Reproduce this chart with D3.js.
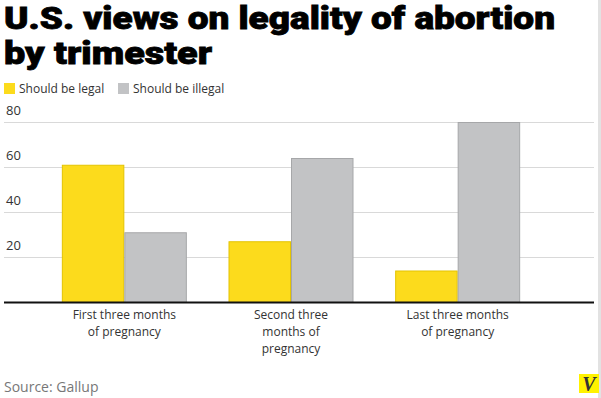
<!DOCTYPE html>
<html>
<head>
<meta charset="utf-8">
<script src="https://cdn.jsdelivr.net/npm/d3@7"></script>
<style>
  body { margin: 0; background: #fff; }
  svg { display: block; }
</style>
</head>
<body>
<div id="chart-holder"></div>
<script>
// data
var categories = ["first", "second", "last"];
var categoryLabels = [
  ["First three months", "of pregnancy"],
  ["Second three", "months of", "pregnancy"],
  ["Last three months", "of pregnancy"]
];
var seriesNames = ["Should be legal", "Should be illegal"];
var legalValues = [61, 27, 14];
var illegalValues = [31, 64, 80];
var yTicks = [20, 40, 60, 80];

var fills = ["#fcdb1c", "#c2c3c5"];
var strokes = ["#e3c400", "#a6a7a9"];

var width = 601, height = 398;

var svg = d3.select("#chart-holder").append("svg")
  .attr("width", width)
  .attr("height", height);

// right edge strip
svg.append("rect")
  .attr("x", 598).attr("y", 0)
  .attr("width", 3).attr("height", height)
  .attr("fill", "#e2e2e2");

// title
var titleLines = ["U.S. views on legality of abortion", "by trimester"];
var titleWidths = [551, 208];
svg.selectAll("text.title")
  .data(titleLines)
  .enter()
  .append("text")
  .attr("class", "title")
  .attr("x", 4)
  .attr("y", function (d, i) { return 29 + i * 35; })
  .attr("textLength", function (d, i) { return titleWidths[i]; })
  .attr("lengthAdjust", "spacingAndGlyphs")
  .style("font-family", "Roboto, sans-serif")
  .style("font-weight", 900)
  .style("font-size", "31px")
  .style("fill", "#000")
  .style("stroke", "#000")
  .style("stroke-width", 0.8)
  .text(function (d) { return d; });

// legend
var legendX = [4, 118];
var legend = svg.selectAll("g.legend")
  .data(seriesNames)
  .enter()
  .append("g")
  .attr("class", "legend")
  .attr("transform", function (d, i) { return "translate(" + legendX[i] + ",83)"; });
legend.append("rect")
  .attr("width", 11).attr("height", 11)
  .attr("fill", function (d, i) { return fills[i]; });
legend.append("text")
  .attr("x", 15).attr("y", 10)
  .style("font-family", "'Open Sans', sans-serif")
  .style("font-size", "12px")
  .style("fill", "#333")
  .text(function (d) { return d; });

// scales
var x0 = d3.scaleBand()
  .domain(categories)
  .range([41, 541])
  .paddingInner(0.25)
  .paddingOuter(0.125);
var x1 = d3.scaleBand()
  .domain(seriesNames)
  .range([0, x0.bandwidth()]);
var y = d3.scaleLinear()
  .domain([0, 80])
  .range([302, 122]);

// gridlines + y labels
var yAxis = svg.append("g")
  .attr("transform", "translate(594,0)")
  .call(d3.axisLeft(y).tickValues(yTicks).tickSize(590).tickFormat(d3.format("d")));
yAxis.select(".domain").remove();
yAxis.selectAll(".tick line").attr("stroke", "#d9d9d9").attr("stroke-width", 1);
yAxis.selectAll(".tick text")
  .attr("x", -588)
  .attr("dy", "-0.55em")
  .attr("text-anchor", "start")
  .style("font-family", "'Open Sans', sans-serif")
  .style("font-size", "13px")
  .style("fill", "#333");

// bars
var rows = categories.map(function (c, i) {
  return { cat: c, values: [legalValues[i], illegalValues[i]] };
});
var groups = svg.selectAll("g.group")
  .data(rows)
  .enter()
  .append("g")
  .attr("class", "group")
  .attr("transform", function (d) { return "translate(" + x0(d.cat) + ",0)"; });
groups.selectAll("rect")
  .data(function (d) { return d.values.map(function (v, j) { return { key: seriesNames[j], value: v, j: j }; }); })
  .enter()
  .append("rect")
  .attr("x", function (d) { return x1(d.key) + 0.5; })
  .attr("y", function (d) { return y(d.value) + 0.5; })
  .attr("width", x1.bandwidth() - 1)
  .attr("height", function (d) { return y(0) - y(d.value); })
  .attr("fill", function (d) { return fills[d.j]; })
  .attr("stroke", function (d) { return strokes[d.j]; })
  .attr("stroke-width", 1);

// baseline
svg.append("line")
  .attr("x1", 4).attr("x2", 594)
  .attr("y1", y(0) + 0.5).attr("y2", y(0) + 0.5)
  .attr("stroke", "#111")
  .attr("stroke-width", 2);

// category labels
var xAxis = svg.append("g")
  .attr("transform", "translate(0," + y(0) + ")")
  .call(d3.axisBottom(x0).tickSize(0).tickFormat(""));
xAxis.select(".domain").remove();
xAxis.selectAll(".tick text").remove();
xAxis.selectAll(".tick")
  .append("text")
  .attr("text-anchor", "middle")
  .style("font-family", "'Open Sans', sans-serif")
  .style("font-size", "12px")
  .style("fill", "#333")
  .selectAll("tspan")
  .data(function (d) { return categoryLabels[categories.indexOf(d)]; })
  .enter()
  .append("tspan")
  .attr("x", 0)
  .attr("y", function (d, i) { return 17 + i * 17; })
  .text(function (d) { return d; });

// source
svg.append("text")
  .attr("x", 4).attr("y", 392)
  .style("font-family", "'Open Sans', sans-serif")
  .style("font-size", "14px")
  .style("fill", "#777")
  .text("Source: Gallup");

// logo
svg.append("rect")
  .attr("x", 579).attr("y", 374)
  .attr("width", 20).attr("height", 19)
  .attr("fill", "#fff200");
svg.append("text")
  .attr("x", 589).attr("y", 391)
  .attr("text-anchor", "middle")
  .style("font-family", "'Liberation Serif', serif")
  .style("font-weight", "bold")
  .style("font-style", "italic")
  .style("font-size", "20px")
  .style("fill", "#333")
  .text("V");
</script>
</body>
</html>
